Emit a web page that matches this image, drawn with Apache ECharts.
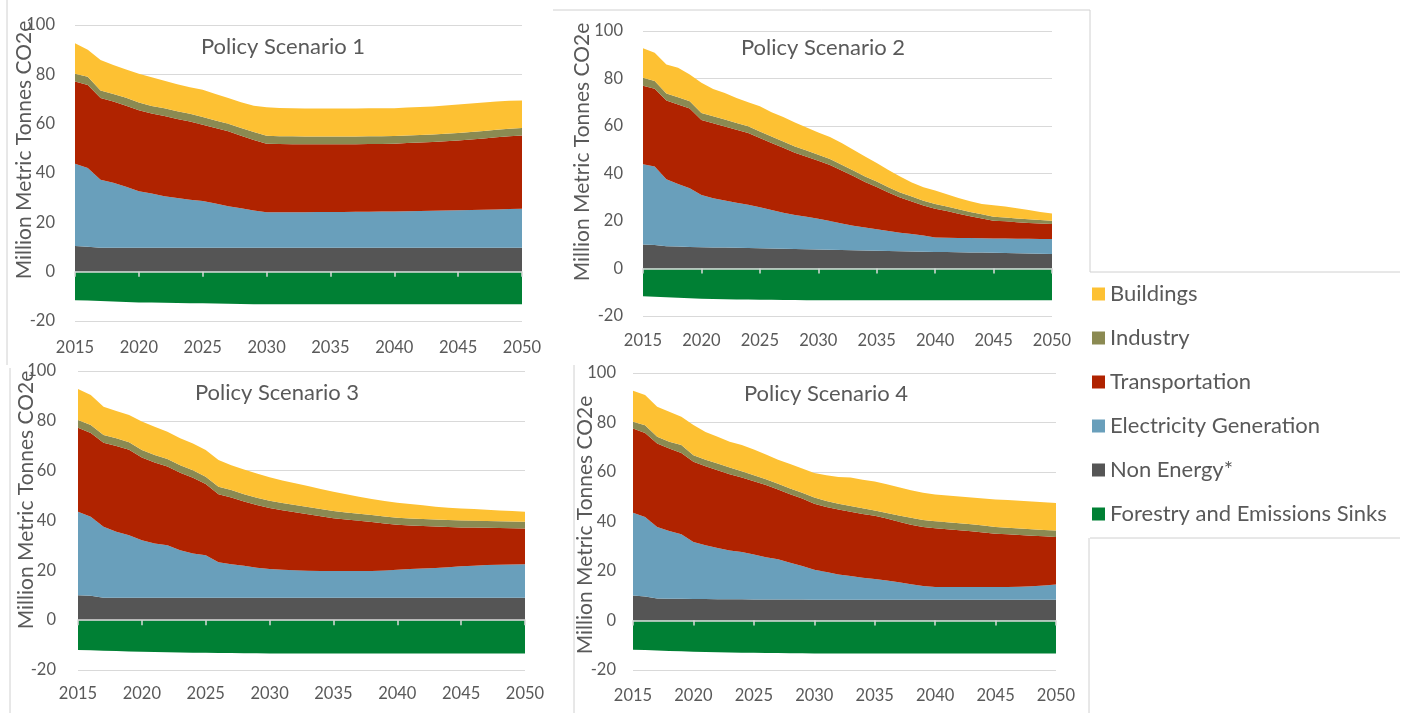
<!DOCTYPE html>
<html>
<head>
<meta charset="utf-8">
<title>Policy Scenarios – Emissions by Sector</title>
<script src="https://cdn.jsdelivr.net/npm/echarts@6/dist/echarts.min.js"></script>
<style>
  html, body { margin: 0; padding: 0; background: #ffffff; }
  #chart { width: 1409px; height: 713px; }
</style>
</head>
<body>
<div id="chart"></div>
<script>
// ---- Categories and tick values ----
const years = ['2015','2016','2017','2018','2019','2020','2021','2022','2023','2024',
               '2025','2026','2027','2028','2029','2030','2031','2032','2033','2034',
               '2035','2036','2037','2038','2039','2040','2041','2042','2043','2044',
               '2045','2046','2047','2048','2049','2050'];
const yMin = -20, yMax = 100, yStep = 20;

const sectorNames = ['Buildings', 'Industry', 'Transportation', 'Electricity Generation',
                     'Non Energy*', 'Forestry and Emissions Sinks'];
const scenarioTitles = ['Policy Scenario 1', 'Policy Scenario 2', 'Policy Scenario 3', 'Policy Scenario 4'];
const axisTitle = 'Million Metric Tonnes CO2e';

// ---- Policy Scenario 1 (million metric tonnes CO2e) ----
const nonEnergy1 = [10.4, 10.1, 9.7, 9.7, 9.7, 9.7, 9.7, 9.7, 9.7, 9.7, 9.7, 9.7, 9.7, 9.7, 9.7, 9.7, 9.7, 9.7,
                    9.7, 9.7, 9.7, 9.7, 9.7, 9.7, 9.7, 9.7, 9.7, 9.7, 9.7, 9.7, 9.7, 9.7, 9.7, 9.7, 9.7, 9.7];
const electricity1 = [33.3, 31.9, 27.6, 26.3, 24.7, 22.9, 22.0, 20.9, 20.2, 19.5, 18.9, 17.9, 16.8, 16.0, 15.1, 14.4, 14.4, 14.4,
                      14.4, 14.5, 14.5, 14.5, 14.6, 14.6, 14.7, 14.7, 14.8, 14.9, 15.0, 15.1, 15.2, 15.3, 15.4, 15.5, 15.7, 15.8];
const transport1 = [33.4, 33.7, 33.1, 33.0, 32.9, 32.8, 32.4, 32.5, 32.0, 31.7, 31.0, 30.6, 30.4, 29.4, 28.6, 27.8, 27.7, 27.6,
                    27.6, 27.5, 27.5, 27.5, 27.4, 27.5, 27.4, 27.5, 27.7, 27.8, 27.9, 28.1, 28.3, 28.6, 28.9, 29.3, 29.5, 29.7];
const industry1 = [3.1, 3.3, 3.0, 3.0, 3.2, 3.2, 3.1, 3.1, 3.1, 3.1, 3.1, 3.1, 3.1, 3.1, 3.2, 3.2, 3.1, 3.2,
                   3.1, 3.1, 3.1, 3.1, 3.1, 3.1, 3.1, 3.1, 3.0, 3.0, 3.0, 3.0, 3.0, 3.0, 3.0, 3.0, 3.0, 3.0];
const buildings1 = [12.4, 11.0, 12.4, 11.8, 11.5, 11.6, 11.6, 11.2, 11.0, 10.8, 11.0, 10.7, 10.4, 10.5, 10.7, 11.6, 11.5, 11.3,
                    11.3, 11.3, 11.3, 11.3, 11.3, 11.3, 11.3, 11.3, 11.4, 11.4, 11.4, 11.5, 11.6, 11.6, 11.6, 11.5, 11.4, 11.2];
const forestry1 = [-11.6, -11.7, -11.9, -12.1, -12.3, -12.5, -12.5, -12.6, -12.7, -12.8, -12.8, -12.9, -13.0, -13.1, -13.2, -13.2, -13.2, -13.2,
                   -13.2, -13.2, -13.2, -13.2, -13.2, -13.2, -13.2, -13.2, -13.2, -13.2, -13.2, -13.2, -13.2, -13.2, -13.2, -13.2, -13.2, -13.2];

// ---- Policy Scenario 2 ----
const nonEnergy2 = [10.1, 9.9, 9.4, 9.3, 9.1, 8.9, 8.8, 8.8, 8.7, 8.6, 8.5, 8.4, 8.3, 8.2, 8.1, 8.0, 7.9, 7.8,
                    7.7, 7.6, 7.5, 7.4, 7.3, 7.2, 7.1, 7.0, 6.9, 6.8, 6.7, 6.7, 6.6, 6.5, 6.4, 6.3, 6.2, 6.1];
const electricity2 = [33.8, 33.1, 28.2, 26.3, 24.7, 22.1, 20.8, 19.8, 19.0, 18.2, 17.3, 16.2, 15.2, 14.3, 13.7, 13.0, 12.1, 11.2,
                      10.3, 9.7, 9.0, 8.4, 7.8, 7.3, 6.8, 6.1, 6.0, 6.0, 6.1, 6.0, 6.0, 6.1, 6.1, 6.2, 6.2, 6.3];
const transport2 = [33.1, 32.7, 33.1, 33.5, 33.6, 31.5, 31.6, 31.2, 30.7, 30.3, 29.1, 28.2, 27.3, 26.2, 25.3, 24.4, 23.6, 22.3,
                    20.9, 19.1, 17.8, 16.2, 14.8, 13.7, 12.6, 12.1, 11.3, 10.3, 9.2, 8.4, 7.5, 7.3, 7.0, 6.7, 6.5, 6.3];
const industry2 = [3.3, 3.2, 3.0, 3.0, 3.0, 3.0, 2.9, 2.9, 2.9, 2.8, 2.8, 2.8, 2.7, 2.7, 2.6, 2.5, 2.5, 2.4,
                   2.4, 2.3, 2.3, 2.2, 2.1, 2.1, 2.0, 2.0, 1.9, 1.8, 1.8, 1.7, 1.7, 1.6, 1.6, 1.5, 1.5, 1.4];
const buildings2 = [12.4, 11.9, 12.2, 12.4, 11.3, 12.7, 11.5, 11.2, 10.5, 10.1, 10.6, 10.2, 10.3, 10.1, 9.7, 9.4, 9.3, 9.1,
                    8.7, 8.5, 7.8, 7.3, 6.7, 5.9, 5.7, 5.6, 5.2, 4.8, 4.5, 4.4, 4.8, 4.6, 4.3, 3.9, 3.4, 3.1];
const forestry2 = [-11.7, -11.9, -12.1, -12.3, -12.5, -12.7, -12.8, -12.9, -13.0, -13.1, -13.2, -13.2, -13.3, -13.3, -13.4, -13.4, -13.4, -13.4,
                   -13.4, -13.4, -13.4, -13.4, -13.4, -13.4, -13.4, -13.4, -13.4, -13.4, -13.4, -13.4, -13.4, -13.4, -13.4, -13.4, -13.4, -13.4];

// ---- Policy Scenario 3 ----
const nonEnergy3 = [10.0, 9.8, 9.0, 9.0, 9.0, 9.0, 9.0, 9.0, 9.0, 9.0, 9.0, 9.0, 9.0, 9.0, 9.0, 9.0, 9.0, 9.0,
                    9.0, 9.0, 9.0, 9.0, 9.0, 9.0, 9.0, 9.0, 9.0, 9.0, 9.0, 9.0, 9.0, 9.0, 9.0, 9.0, 9.0, 9.0];
const electricity3 = [33.5, 31.7, 28.5, 26.5, 25.1, 23.1, 21.8, 21.1, 19.1, 17.8, 17.1, 14.2, 13.4, 12.8, 12.0, 11.5, 11.2, 11.0,
                      10.8, 10.7, 10.7, 10.7, 10.7, 10.7, 10.9, 11.2, 11.5, 11.7, 11.9, 12.2, 12.6, 12.8, 13.1, 13.2, 13.3, 13.4];
const transport3 = [33.7, 33.6, 33.7, 34.4, 34.3, 33.2, 32.5, 31.6, 31.1, 30.4, 28.5, 27.3, 26.8, 25.8, 25.2, 24.5, 23.9, 23.3,
                    22.7, 22.0, 21.2, 20.7, 20.2, 19.7, 18.9, 18.1, 17.5, 17.1, 16.7, 16.2, 15.6, 15.4, 15.0, 14.8, 14.6, 14.4];
const industry3 = [3.1, 3.2, 3.1, 3.1, 3.0, 3.0, 3.0, 3.0, 3.0, 3.0, 3.0, 3.0, 3.0, 2.9, 2.9, 2.9, 2.9, 2.9,
                   2.9, 2.9, 2.9, 2.8, 2.8, 2.8, 2.8, 2.8, 2.8, 2.8, 2.8, 2.8, 2.8, 2.7, 2.7, 2.7, 2.7, 2.7];
const buildings3 = [12.5, 12.1, 11.4, 10.9, 10.9, 11.4, 11.3, 10.9, 10.8, 10.7, 10.7, 10.8, 10.0, 10.0, 9.8, 9.5, 9.1, 8.7,
                    8.4, 8.0, 7.7, 7.3, 6.8, 6.4, 6.2, 6.0, 5.8, 5.5, 5.1, 4.9, 4.8, 4.7, 4.5, 4.3, 4.2, 4.0];
const forestry3 = [-12.0, -12.1, -12.3, -12.4, -12.6, -12.7, -12.8, -12.9, -13.0, -13.1, -13.1, -13.2, -13.2, -13.3, -13.3, -13.4, -13.4, -13.4,
                   -13.4, -13.4, -13.4, -13.4, -13.4, -13.4, -13.4, -13.4, -13.4, -13.4, -13.4, -13.4, -13.4, -13.4, -13.4, -13.4, -13.4, -13.4];

// ---- Policy Scenario 4 ----
const nonEnergy4 = [10.1, 9.7, 8.9, 8.8, 8.8, 8.7, 8.7, 8.6, 8.6, 8.6, 8.5, 8.5, 8.5, 8.5, 8.5, 8.4, 8.4, 8.4,
                    8.4, 8.4, 8.4, 8.4, 8.4, 8.4, 8.4, 8.4, 8.4, 8.4, 8.4, 8.4, 8.4, 8.4, 8.4, 8.4, 8.4, 8.4];
const electricity4 = [33.4, 32.1, 28.9, 27.4, 26.0, 23.0, 21.7, 20.7, 19.7, 19.1, 18.2, 17.1, 16.2, 14.8, 13.5, 12.1, 11.2, 10.2,
                      9.6, 8.9, 8.4, 7.8, 7.1, 6.2, 5.5, 5.1, 5.1, 5.1, 5.1, 5.1, 5.1, 5.1, 5.2, 5.4, 5.7, 6.1];
const transport4 = [34.1, 34.0, 33.7, 33.3, 32.9, 32.4, 31.9, 31.4, 30.8, 30.1, 29.6, 29.1, 28.2, 27.7, 27.3, 26.7, 26.3, 26.2,
                    25.9, 25.7, 25.5, 25.0, 24.4, 24.1, 23.9, 23.8, 23.4, 23.0, 22.6, 22.1, 21.6, 21.3, 20.9, 20.4, 19.9, 19.2];
const industry4 = [2.7, 3.1, 2.7, 2.7, 3.2, 2.7, 2.7, 2.7, 2.7, 2.5, 2.4, 2.4, 2.4, 2.3, 2.3, 2.5, 2.4, 2.4,
                   2.4, 2.4, 2.1, 2.2, 2.5, 2.8, 2.8, 2.8, 2.8, 2.8, 2.8, 2.8, 2.7, 2.7, 2.7, 2.7, 2.6, 2.7];
const buildings4 = [12.5, 12.2, 12.2, 12.1, 11.4, 12.2, 11.2, 10.8, 10.4, 10.6, 10.4, 10.0, 9.7, 9.9, 9.8, 9.9, 10.4, 10.8,
                    11.5, 11.5, 11.8, 11.7, 11.4, 11.1, 11.0, 10.8, 10.8, 10.8, 10.8, 10.9, 11.1, 11.2, 11.2, 11.2, 11.2, 11.1];
const forestry4 = [-11.8, -11.9, -12.1, -12.3, -12.4, -12.6, -12.7, -12.8, -12.9, -13.0, -13.0, -13.1, -13.1, -13.2, -13.2, -13.3, -13.3, -13.3,
                   -13.3, -13.3, -13.3, -13.3, -13.3, -13.3, -13.3, -13.3, -13.3, -13.3, -13.3, -13.3, -13.3, -13.3, -13.3, -13.3, -13.3, -13.3];

// ---- Styling ----
const FONT = 'Lato, "Open Sans", sans-serif';
const TEXT = '#595959';
const GRIDLINE = '#d9d9d9';
const FRAME = '#d0d0d0';
const sectorColors = {
  'Buildings': '#fdc133',
  'Industry': '#8b8a52',
  'Transportation': '#b02300',
  'Electricity Generation': '#699fbb',
  'Non Energy*': '#555555',
  'Forestry and Emissions Sinks': '#008034'
};

// Each panel: its stacked sector series (bottom to top) plus the sink series below zero,
// and where its plot area sits on the page.
const panels = [
  { sectors: { nonEnergy: nonEnergy1, electricity: electricity1, transport: transport1, industry: industry1, buildings: buildings1, forestry: forestry1 },
    grid: { left: 75, top: 25, width: 447, height: 296 }, titleAt: [278, 42], nameAt: [24, 150], yMargin: 20, xMargin: 18 },
  { sectors: { nonEnergy: nonEnergy2, electricity: electricity2, transport: transport2, industry: industry2, buildings: buildings2, forestry: forestry2 },
    grid: { left: 643, top: 31, width: 409, height: 285 }, titleAt: [818, 43], nameAt: [582, 152], yMargin: 20, xMargin: 16 },
  { sectors: { nonEnergy: nonEnergy3, electricity: electricity3, transport: transport3, industry: industry3, buildings: buildings3, forestry: forestry3 },
    grid: { left: 78, top: 371, width: 447, height: 299 }, titleAt: [272, 388], nameAt: [26, 500], yMargin: 22, xMargin: 15 },
  { sectors: { nonEnergy: nonEnergy4, electricity: electricity4, transport: transport4, industry: industry4, buildings: buildings4, forestry: forestry4 },
    grid: { left: 633, top: 373, width: 423, height: 297 }, titleAt: [821, 389], nameAt: [585, 525], yMargin: 17, xMargin: 17 }
];

const stackOrder = [
  ['nonEnergy', 'Non Energy*'],
  ['electricity', 'Electricity Generation'],
  ['transport', 'Transportation'],
  ['industry', 'Industry'],
  ['buildings', 'Buildings']
];

const grids = [], xAxes = [], yAxes = [], series = [], titles = [], graphics = [];

panels.forEach((p, i) => {
  grids.push(Object.assign({}, p.grid));

  // Axis that sits on the zero line: line and tick marks only
  xAxes.push({
    type: 'category', gridIndex: i, data: years, boundaryGap: false, z: 5,
    axisLine: { onZero: true, lineStyle: { color: GRIDLINE, width: 1.5 } },
    axisTick: { show: true, interval: 4, length: 5, lineStyle: { color: GRIDLINE, width: 1.5 } },
    axisLabel: { show: false },
    splitLine: { show: false }
  });
  // Axis along the bottom edge carrying the year labels
  xAxes.push({
    type: 'category', gridIndex: i, data: years, boundaryGap: false, position: 'bottom',
    axisLine: { show: false, onZero: false },
    axisTick: { show: false },
    axisLabel: { interval: 4, margin: p.xMargin, fontSize: 16.5, color: TEXT, fontFamily: FONT },
    splitLine: { show: false }
  });
  yAxes.push({
    type: 'value', gridIndex: i, min: yMin, max: yMax, interval: yStep,
    axisLine: { show: false }, axisTick: { show: false },
    axisLabel: { margin: p.yMargin, fontSize: 16.5, color: TEXT, fontFamily: FONT },
    splitLine: { lineStyle: { color: GRIDLINE, width: 1 } }
  });

  stackOrder.forEach(([key, name]) => {
    series.push({
      name, type: 'line', xAxisIndex: i * 2, yAxisIndex: i,
      stack: 'sectors' + i, data: p.sectors[key],
      symbol: 'none', smooth: false,
      lineStyle: { width: 0 },
      itemStyle: { color: sectorColors[name] },
      areaStyle: { color: sectorColors[name], opacity: 1 },
      emphasis: { disabled: true }, silent: true
    });
  });
  series.push({
    name: 'Forestry and Emissions Sinks', type: 'line', xAxisIndex: i * 2, yAxisIndex: i,
    stack: 'sinks' + i, data: p.sectors.forestry,
    symbol: 'none', smooth: false,
    lineStyle: { width: 0 },
    itemStyle: { color: sectorColors['Forestry and Emissions Sinks'] },
    areaStyle: { color: sectorColors['Forestry and Emissions Sinks'], opacity: 1 },
    emphasis: { disabled: true }, silent: true
  });

  titles.push({
    text: scenarioTitles[i], left: p.titleAt[0], top: p.titleAt[1],
    textAlign: 'center', textVerticalAlign: 'middle',
    textStyle: { fontSize: 22, fontWeight: 'normal', color: TEXT, fontFamily: FONT }
  });

  graphics.push({
    type: 'text', x: p.nameAt[0], y: p.nameAt[1], rotation: Math.PI / 2, silent: true,
    style: { text: axisTitle, fill: TEXT, font: '21px ' + FONT, textAlign: 'center', textVerticalAlign: 'middle' }
  });
});

// Thin panel frames
const frameLines = [
  [7, 0, 7, 365],          // left edge, scenario 1
  [553, 10, 1090, 10],     // top edge, scenario 2
  [1090, 10, 1090, 272],   // right edge, scenario 2
  [1090, 272, 1400, 272],  // legend box top
  [1090, 538, 1400, 538],  // legend box bottom
  [1089, 538, 1089, 713],  // right edge, scenario 4
  [574, 365, 574, 713],    // left edge, scenario 4
  [10, 368, 10, 713]       // left edge, scenario 3
];
frameLines.forEach(l => graphics.push({
  type: 'line', silent: true, z: -1,
  shape: { x1: l[0], y1: l[1], x2: l[2], y2: l[3] },
  style: { stroke: FRAME, lineWidth: 1 }
}));

const chart = echarts.init(document.getElementById('chart'), null, { renderer: 'canvas' });
chart.setOption({
  backgroundColor: '#ffffff',
  animation: false,
  title: titles,
  legend: {
    data: sectorNames, orient: 'vertical', left: 1087, top: 278,
    icon: 'rect', itemWidth: 13, itemHeight: 13, itemGap: 22,
    textStyle: { fontSize: 22, lineHeight: 22, color: TEXT, fontFamily: FONT }
  },
  grid: grids,
  xAxis: xAxes,
  yAxis: yAxes,
  series: series,
  graphic: graphics
});
</script>
</body>
</html>
